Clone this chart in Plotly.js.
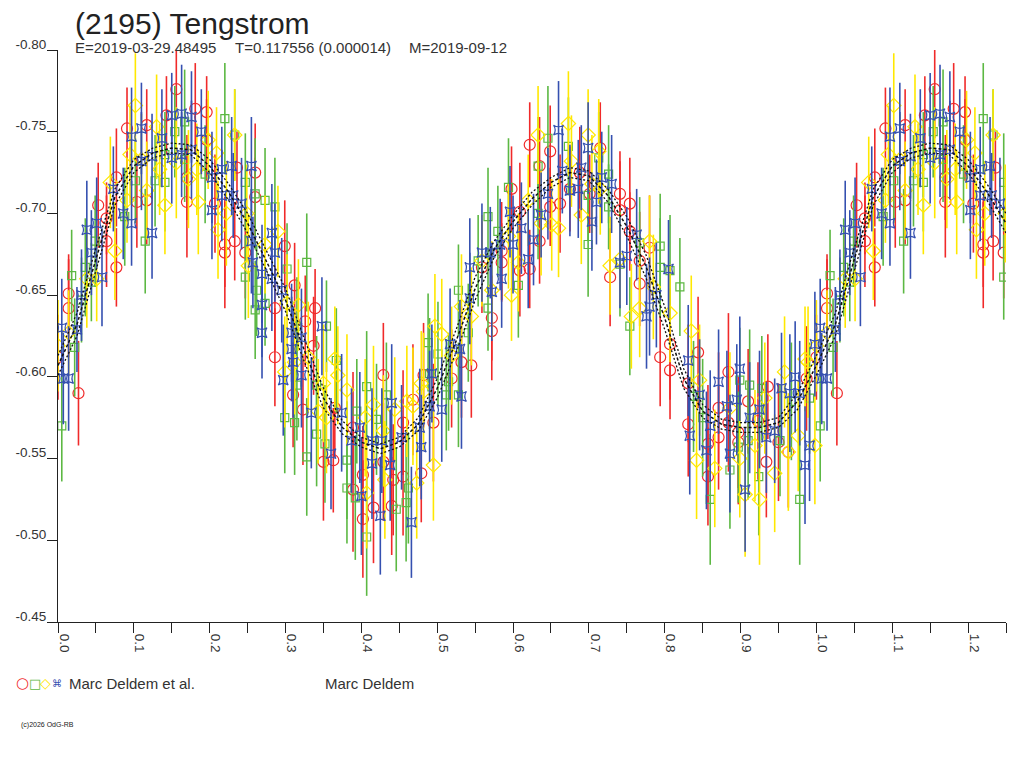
<!DOCTYPE html>
<html>
<head>
<meta charset="utf-8">
<script src="https://cdn.plot.ly/plotly-3.0.1.min.js"></script>
<style>
  body { margin: 0; background: #fff; }
  #Graph1 { width: 1024px; height: 768px; }
</style>
</head>
<body>
<div id="Graph1"></div>
<script>
// lightcurve of (2195) Tengstrom, phase vs relative magnitude
var redPhase = [
  0.000,0.014,0.014,0.027,0.053,0.064,0.064,0.077,0.077,0.091,
  0.104,0.117,0.117,0.143,0.156,0.170,0.170,0.181,0.196,0.196,
  0.207,0.220,0.220,0.233,0.236,0.247,0.260,0.260,0.286,0.286,
  0.299,0.310,0.312,0.323,0.326,0.337,0.339,0.350,0.363,0.365,
  0.389,0.389,0.402,0.402,0.416,0.429,0.429,0.440,0.442,0.455,
  0.455,0.468,0.479,0.482,0.495,0.519,0.532,0.545,0.559,0.572,
  0.572,0.585,0.585,0.598,0.609,0.609,0.622,0.622,0.635,0.635,
  0.649,0.649,0.662,0.675,0.688,0.701,0.715,0.728,0.741,0.741,
  0.754,0.754,0.767,0.767,0.780,0.794,0.807,0.807,0.831,0.831,
  0.844,0.857,0.857,0.871,0.871,0.884,0.884,0.897,0.897,0.910,
  0.923,0.934,0.936,0.950,0.963,0.987]
var redMag = [
  -0.612,-0.651,-0.642,-0.590,-0.705,-0.697,-0.683,-0.722,-0.667,-0.752,
  -0.707,-0.754,-0.708,-0.760,-0.776,-0.707,-0.722,-0.764,-0.762,-0.745,
  -0.706,-0.681,-0.676,-0.683,-0.728,-0.676,-0.725,-0.710,-0.642,-0.612,
  -0.680,-0.589,-0.656,-0.580,-0.634,-0.619,-0.642,-0.548,-0.549,-0.581,
  -0.569,-0.531,-0.540,-0.513,-0.520,-0.601,-0.548,-0.521,-0.537,-0.572,
  -0.539,-0.586,-0.541,-0.601,-0.572,-0.599,-0.609,-0.607,-0.667,-0.628,
  -0.636,-0.677,-0.670,-0.715,-0.701,-0.665,-0.742,-0.666,-0.729,-0.683,
  -0.738,-0.704,-0.706,-0.715,-0.725,-0.712,-0.740,-0.661,-0.712,-0.702,
  -0.706,-0.689,-0.671,-0.657,-0.679,-0.612,-0.620,-0.604,-0.596,-0.571,
  -0.615,-0.559,-0.539,-0.581,-0.563,-0.603,-0.572,-0.566,-0.560,-0.585,
  -0.573,-0.548,-0.594,-0.560,-0.554,-0.599]
var redErr = [
  0.026,0.024,0.030,0.032,0.026,0.022,0.028,0.030,0.024,0.025,
  0.028,0.022,0.027,0.024,0.030,0.034,0.026,0.028,0.022,0.025,
  0.030,0.026,0.034,0.024,0.022,0.028,0.030,0.024,0.026,0.030,
  0.028,0.032,0.026,0.034,0.028,0.030,0.024,0.036,0.032,0.030,
  0.034,0.038,0.030,0.036,0.034,0.032,0.036,0.030,0.034,0.032,
  0.036,0.034,0.030,0.032,0.036,0.030,0.034,0.032,0.028,0.030,
  0.026,0.030,0.024,0.026,0.030,0.028,0.026,0.024,0.030,0.026,
  0.028,0.024,0.030,0.026,0.028,0.024,0.028,0.030,0.026,0.030,
  0.028,0.024,0.030,0.026,0.032,0.030,0.034,0.030,0.036,0.032,
  0.034,0.036,0.030,0.034,0.032,0.036,0.030,0.034,0.038,0.032,
  0.036,0.034,0.032,0.036,0.034,0.032]

var greenPhase = [
  0.005,0.018,0.022,0.031,0.036,0.044,0.049,0.088,0.102,0.115,
  0.128,0.141,0.141,0.154,0.167,0.167,0.194,0.220,0.233,0.247,
  0.247,0.260,0.260,0.262,0.273,0.273,0.286,0.299,0.302,0.312,
  0.315,0.315,0.328,0.328,0.341,0.341,0.352,0.354,0.367,0.381,
  0.381,0.392,0.394,0.407,0.407,0.420,0.433,0.446,0.459,0.462,
  0.488,0.490,0.501,0.512,0.515,0.528,0.528,0.541,0.554,0.567,
  0.567,0.580,0.594,0.607,0.633,0.633,0.646,0.673,0.699,0.699,
  0.713,0.726,0.726,0.741,0.754,0.767,0.794,0.794,0.807,0.820,
  0.838,0.850,0.860,0.886,0.897,0.899,0.910,0.912,0.924,0.928,
  0.952,0.967,0.978,0.991]
var greenMag = [
  -0.570,-0.662,-0.618,-0.647,-0.667,-0.658,-0.683,-0.698,-0.720,-0.683,
  -0.720,-0.736,-0.719,-0.750,-0.756,-0.733,-0.724,-0.758,-0.748,-0.719,
  -0.661,-0.712,-0.641,-0.653,-0.708,-0.645,-0.704,-0.575,-0.666,-0.572,
  -0.631,-0.595,-0.670,-0.551,-0.565,-0.595,-0.559,-0.631,-0.610,-0.549,
  -0.532,-0.526,-0.579,-0.594,-0.502,-0.574,-0.589,-0.519,-0.523,-0.532,
  -0.621,-0.602,-0.614,-0.589,-0.597,-0.589,-0.653,-0.627,-0.671,-0.698,
  -0.642,-0.689,-0.716,-0.656,-0.700,-0.729,-0.746,-0.741,-0.711,-0.681,
  -0.734,-0.724,-0.704,-0.669,-0.631,-0.682,-0.680,-0.667,-0.665,-0.655,
  -0.588,-0.575,-0.525,-0.543,-0.557,-0.598,-0.561,-0.595,-0.539,-0.593,
  -0.561,-0.585,-0.525,-0.587]
var greenErr = [
  0.034,0.028,0.030,0.026,0.030,0.024,0.028,0.030,0.026,0.032,
  0.028,0.026,0.030,0.028,0.032,0.026,0.030,0.034,0.028,0.030,
  0.026,0.034,0.030,0.028,0.032,0.026,0.030,0.034,0.028,0.032,
  0.030,0.034,0.030,0.036,0.032,0.030,0.036,0.028,0.032,0.036,
  0.034,0.038,0.032,0.034,0.036,0.034,0.032,0.038,0.036,0.034,
  0.030,0.034,0.032,0.034,0.030,0.032,0.028,0.030,0.028,0.030,
  0.026,0.028,0.030,0.032,0.028,0.030,0.032,0.030,0.028,0.032,
  0.028,0.030,0.026,0.032,0.030,0.028,0.032,0.030,0.034,0.030,
  0.034,0.036,0.040,0.036,0.034,0.032,0.036,0.034,0.036,0.032,
  0.034,0.036,0.040,0.034]

var yellowPhase = [
  0.000,0.014,0.038,0.051,0.069,0.075,0.091,0.095,0.102,0.110,
  0.117,0.130,0.134,0.141,0.156,0.172,0.183,0.185,0.198,0.209,
  0.211,0.222,0.233,0.249,0.251,0.273,0.290,0.299,0.302,0.312,
  0.317,0.330,0.343,0.350,0.354,0.365,0.369,0.381,0.405,0.407,
  0.416,0.429,0.431,0.444,0.460,0.468,0.473,0.479,0.482,0.495,
  0.497,0.506,0.519,0.532,0.545,0.559,0.572,0.594,0.598,0.607,
  0.620,0.633,0.637,0.651,0.660,0.673,0.677,0.690,0.699,0.704,
  0.713,0.715,0.728,0.741,0.756,0.767,0.780,0.785,0.807,0.835,
  0.842,0.846,0.866,0.886,0.899,0.906,0.919,0.925,0.932,0.945,
  0.958,0.963,0.976,0.985,0.989,0.998]
var yellowMag = [
  -0.619,-0.627,-0.660,-0.660,-0.719,-0.677,-0.708,-0.736,-0.766,-0.733,
  -0.714,-0.753,-0.727,-0.705,-0.731,-0.721,-0.727,-0.707,-0.745,-0.737,
  -0.690,-0.700,-0.748,-0.700,-0.668,-0.681,-0.689,-0.603,-0.645,-0.609,
  -0.644,-0.612,-0.579,-0.596,-0.575,-0.611,-0.601,-0.592,-0.575,-0.529,
  -0.583,-0.567,-0.537,-0.580,-0.585,-0.582,-0.535,-0.596,-0.591,-0.546,
  -0.631,-0.626,-0.613,-0.643,-0.637,-0.671,-0.653,-0.686,-0.650,-0.670,
  -0.708,-0.748,-0.694,-0.693,-0.691,-0.755,-0.732,-0.699,-0.748,-0.718,
  -0.738,-0.715,-0.668,-0.672,-0.637,-0.642,-0.683,-0.655,-0.639,-0.628,
  -0.549,-0.598,-0.544,-0.581,-0.550,-0.528,-0.558,-0.525,-0.587,-0.541,
  -0.603,-0.554,-0.564,-0.611,-0.609,-0.558]
var yellowErr = [
  0.028,0.026,0.030,0.026,0.028,0.030,0.026,0.030,0.032,0.028,
  0.030,0.032,0.028,0.030,0.034,0.030,0.028,0.032,0.030,0.028,
  0.030,0.032,0.028,0.030,0.032,0.030,0.028,0.034,0.030,0.032,
  0.028,0.034,0.032,0.036,0.034,0.032,0.030,0.034,0.036,0.034,
  0.036,0.034,0.036,0.032,0.034,0.036,0.034,0.032,0.036,0.034,
  0.032,0.034,0.030,0.032,0.030,0.028,0.030,0.032,0.028,0.030,
  0.028,0.030,0.032,0.028,0.030,0.032,0.028,0.030,0.028,0.030,
  0.032,0.028,0.030,0.028,0.032,0.030,0.028,0.032,0.030,0.034,
  0.036,0.034,0.036,0.034,0.036,0.038,0.034,0.040,0.034,0.036,
  0.034,0.036,0.034,0.032,0.034,0.036]

var bluePhase = [
  0.005,0.007,0.014,0.025,0.031,0.038,0.044,0.051,0.058,0.073,
  0.086,0.097,0.097,0.110,0.110,0.124,0.124,0.137,0.150,0.150,
  0.163,0.163,0.176,0.176,0.189,0.203,0.203,0.216,0.216,0.229,
  0.231,0.242,0.255,0.255,0.257,0.269,0.269,0.269,0.282,0.282,
  0.286,0.295,0.297,0.308,0.308,0.310,0.321,0.321,0.334,0.348,
  0.360,0.374,0.387,0.398,0.400,0.414,0.414,0.425,0.427,0.438,
  0.440,0.453,0.466,0.477,0.479,0.490,0.493,0.506,0.517,0.530,
  0.532,0.543,0.543,0.559,0.570,0.572,0.583,0.585,0.596,0.600,
  0.611,0.620,0.627,0.637,0.646,0.660,0.665,0.675,0.686,0.690,
  0.699,0.704,0.710,0.717,0.730,0.741,0.750,0.763,0.776,0.780,
  0.789,0.805,0.831,0.833,0.846,0.855,0.860,0.871,0.882,0.886,
  0.895,0.899,0.906,0.912,0.925,0.934,0.945,0.954,0.965,0.972,
  0.978,0.985,0.991,0.998]
var blueMag = [
  -0.630,-0.599,-0.599,-0.629,-0.650,-0.690,-0.676,-0.694,-0.661,-0.715,
  -0.700,-0.747,-0.694,-0.752,-0.732,-0.735,-0.688,-0.746,-0.760,-0.734,
  -0.761,-0.736,-0.759,-0.739,-0.750,-0.722,-0.702,-0.727,-0.711,-0.729,
  -0.711,-0.706,-0.729,-0.683,-0.670,-0.663,-0.644,-0.627,-0.688,-0.660,
  -0.676,-0.653,-0.598,-0.627,-0.617,-0.609,-0.624,-0.601,-0.578,-0.631,
  -0.553,-0.578,-0.561,-0.569,-0.527,-0.561,-0.547,-0.515,-0.561,-0.546,
  -0.584,-0.563,-0.511,-0.569,-0.557,-0.582,-0.602,-0.580,-0.620,-0.617,
  -0.588,-0.667,-0.648,-0.676,-0.676,-0.652,-0.681,-0.660,-0.701,-0.681,
  -0.691,-0.672,-0.684,-0.699,-0.712,-0.751,-0.726,-0.714,-0.715,-0.728,
  -0.740,-0.695,-0.707,-0.722,-0.718,-0.670,-0.674,-0.687,-0.637,-0.643,
  -0.650,-0.666,-0.610,-0.564,-0.589,-0.555,-0.570,-0.597,-0.582,-0.553,
  -0.586,-0.605,-0.531,-0.575,-0.580,-0.563,-0.567,-0.593,-0.590,-0.600,
  -0.590,-0.546,-0.558,-0.620]
var blueErr = [
  0.030,0.028,0.032,0.026,0.028,0.030,0.026,0.028,0.030,0.026,
  0.028,0.030,0.026,0.028,0.030,0.026,0.028,0.030,0.026,0.028,
  0.030,0.026,0.028,0.030,0.026,0.028,0.030,0.026,0.028,0.030,
  0.026,0.028,0.030,0.032,0.028,0.030,0.032,0.028,0.030,0.032,
  0.030,0.032,0.034,0.030,0.032,0.034,0.030,0.032,0.034,0.030,
  0.034,0.036,0.032,0.034,0.036,0.032,0.034,0.036,0.032,0.034,
  0.036,0.032,0.034,0.036,0.032,0.034,0.030,0.032,0.034,0.030,
  0.032,0.030,0.028,0.030,0.028,0.030,0.028,0.030,0.028,0.030,
  0.028,0.030,0.028,0.026,0.028,0.030,0.026,0.028,0.030,0.026,
  0.028,0.030,0.026,0.028,0.030,0.028,0.030,0.028,0.032,0.030,
  0.032,0.030,0.034,0.036,0.034,0.036,0.034,0.032,0.034,0.036,
  0.034,0.032,0.038,0.034,0.036,0.034,0.032,0.034,0.036,0.034,
  0.032,0.036,0.034,0.032]

// fitted curve and its two bounds, read at every 0.025 in phase
var fitPhase = [
  0.000,0.025,0.050,0.075,0.100,0.125,0.150,0.175,0.200,0.225,
  0.250,0.275,0.300,0.325,0.350,0.375,0.400,0.425,0.450,0.475,
  0.500,0.525,0.550,0.575,0.600,0.625,0.650,0.675,0.700,0.725,
  0.750,0.775,0.800,0.825,0.850,0.875,0.900,0.925,0.950,0.975,1.000]
var fitMag = [
  -0.607,-0.632,-0.672,-0.710,-0.729,-0.737,-0.740,-0.739,-0.729,-0.713,
  -0.694,-0.671,-0.647,-0.616,-0.587,-0.569,-0.560,-0.556,-0.560,-0.571,
  -0.593,-0.622,-0.654,-0.678,-0.695,-0.709,-0.719,-0.725,-0.723,-0.711,
  -0.692,-0.668,-0.636,-0.599,-0.579,-0.571,-0.569,-0.569,-0.572,-0.585,-0.607]
var fitHigh = [
  -0.613,-0.639,-0.679,-0.715,-0.733,-0.740,-0.743,-0.742,-0.733,-0.718,
  -0.700,-0.677,-0.654,-0.623,-0.593,-0.573,-0.563,-0.559,-0.563,-0.575,
  -0.599,-0.629,-0.661,-0.683,-0.699,-0.713,-0.722,-0.728,-0.726,-0.715,
  -0.698,-0.675,-0.643,-0.605,-0.583,-0.574,-0.572,-0.572,-0.575,-0.590,-0.613]
var fitLow = [
  -0.601,-0.625,-0.665,-0.705,-0.725,-0.734,-0.737,-0.736,-0.725,-0.708,
  -0.688,-0.665,-0.640,-0.609,-0.581,-0.565,-0.557,-0.553,-0.557,-0.567,
  -0.587,-0.615,-0.647,-0.673,-0.691,-0.705,-0.716,-0.722,-0.720,-0.707,
  -0.686,-0.661,-0.629,-0.593,-0.575,-0.568,-0.566,-0.566,-0.569,-0.580,-0.601]

var yTickVals = [-0.80, -0.75, -0.70, -0.65, -0.60, -0.55, -0.50, -0.45]
var yTickText = ['-0.80', '-0.75', '-0.70', '-0.65', '-0.60', '-0.55', '-0.50', '-0.45']

var colRed = '#f02a2a', colGreen = '#5cb843', colYellow = '#ffe800', colBlue = '#3550b0'

// phases up to 0.25 are shown a second time after 1.0
function wrap(ph, arrs){
  var out = {x: ph.slice(), ys: arrs.map(function(a){ return a.slice() })}
  for (var i = 0; i < ph.length; i++){
    if (ph[i] <= 0.25){
      out.x.push(ph[i] + 1)
      arrs.forEach(function(a, k){ out.ys[k].push(a[i]) })
    }
  }
  return out
}

function obsTrace(ph, mg, er, color, symbol, size){
  var w = wrap(ph, [mg, er])
  return {
    x: w.x, y: w.ys[0], type: 'scatter', mode: 'markers',
    marker: {symbol: symbol, size: size, color: color, line: {color: color, width: 1.2}},
    error_y: {type: 'data', array: w.ys[1], visible: true, color: color, thickness: 1.6, width: 0},
    hoverinfo: 'skip', showlegend: false
  }
}

function fitTrace(vals, dash, width){
  var w = wrap(fitPhase, [vals])
  return {
    x: w.x, y: w.ys[0], type: 'scatter', mode: 'lines',
    line: {color: '#111111', width: width, dash: dash},
    hoverinfo: 'skip', showlegend: false
  }
}

var traces = [
  obsTrace(redPhase, redMag, redErr, colRed, 'circle-open', 11),
  obsTrace(greenPhase, greenMag, greenErr, colGreen, 'square-open', 8),
  obsTrace(yellowPhase, yellowMag, yellowErr, colYellow, 'diamond-open', 11),
  obsTrace(bluePhase, blueMag, blueErr, colBlue, 'star-square-open', 9),
  fitTrace(fitHigh, '2px,2px', 1.3),
  fitTrace(fitLow, '2px,2px', 1.3),
  fitTrace(fitMag, '3px,2px', 1.5)
]

// pixel helpers for the text placed round the plot (plot box 58..1006 x 50..622)
function px(x){ return (x - 58) / 948 }
function py(y){ return (622 - y) / 572 }

var font = 'Liberation Sans, Arial, sans-serif'
var txt = '#333333'

var layout = {
  width: 1024,
  height: 768,
  margin: {l: 58, r: 18, t: 50, b: 146, pad: 0},
  paper_bgcolor: '#ffffff',
  plot_bgcolor: '#ffffff',
  font: {family: font, size: 14, color: txt},
  title: {
    text: '(2195) Tengstrom', x: 75 / 1024, xanchor: 'left', xref: 'container',
    y: 1 - 23 / 768, yanchor: 'middle', yref: 'container',
    font: {family: font, size: 30, color: '#222222'}
  },
  xaxis: {
    range: [0, 1.25], tick0: 0, dtick: 0.1, tickformat: '.1f', tickangle: 90,
    ticks: 'outside', ticklen: 10, tickcolor: '#222', tickwidth: 1,
    minor: {dtick: 0.05, ticks: 'outside', ticklen: 10, tickcolor: '#222', tickwidth: 1},
    showline: true, linecolor: '#222', linewidth: 1, showgrid: false, zeroline: false,
    ticklabelshift: 6, ticklabelstandoff: -2,
    tickfont: {family: font, size: 13.5, color: txt}
  },
  yaxis: {
    range: [-0.45, -0.80], tickvals: yTickVals, ticktext: yTickText,
    ticks: 'outside', ticklen: 10, tickcolor: '#222', tickwidth: 1,
    showline: true, linecolor: '#222', linewidth: 1, showgrid: false, zeroline: false,
    ticklabelshift: 6, ticklabelstandoff: -2,
    tickfont: {family: font, size: 13.5, color: txt}
  },
  annotations: [
    {text: 'E=2019-03-29.48495', x: px(73), y: py(48)},
    {text: 'T=0.117556 (0.000014)', x: px(233), y: py(48)},
    {text: 'M=2019-09-12', x: px(407), y: py(48)},
    {text: '○', x: px(22.5), y: py(683), xanchor: 'center', font: {family: 'DejaVu Sans', size: 15, color: colRed}},
    {text: '□', x: px(34.5), y: py(683), xanchor: 'center', font: {family: 'DejaVu Sans', size: 13, color: colGreen}},
    {text: '◇', x: px(45.5), y: py(683), xanchor: 'center', font: {family: 'DejaVu Sans', size: 14, color: colYellow}},
    {text: '⌘', x: px(57), y: py(683), xanchor: 'center', font: {family: 'DejaVu Sans', size: 10, color: colBlue}},
    {text: 'Marc Deldem et al.', x: px(67), y: py(683), font: {family: font, size: 15, color: txt}},
    {text: 'Marc Deldem', x: px(323), y: py(683), font: {family: font, size: 15, color: txt}},
    {text: '(c)2026 OdG-RB', x: px(19), y: py(725), font: {family: font, size: 7, color: '#222'}}
  ].map(function(a){
    return Object.assign({xref: 'paper', yref: 'paper', xanchor: 'left', yanchor: 'middle',
      showarrow: false, font: {family: font, size: 15, color: txt}}, a)
  })
}

Plotly.newPlot('Graph1', traces, layout, {displayModeBar: false, staticPlot: true})
</script>
</body>
</html>
